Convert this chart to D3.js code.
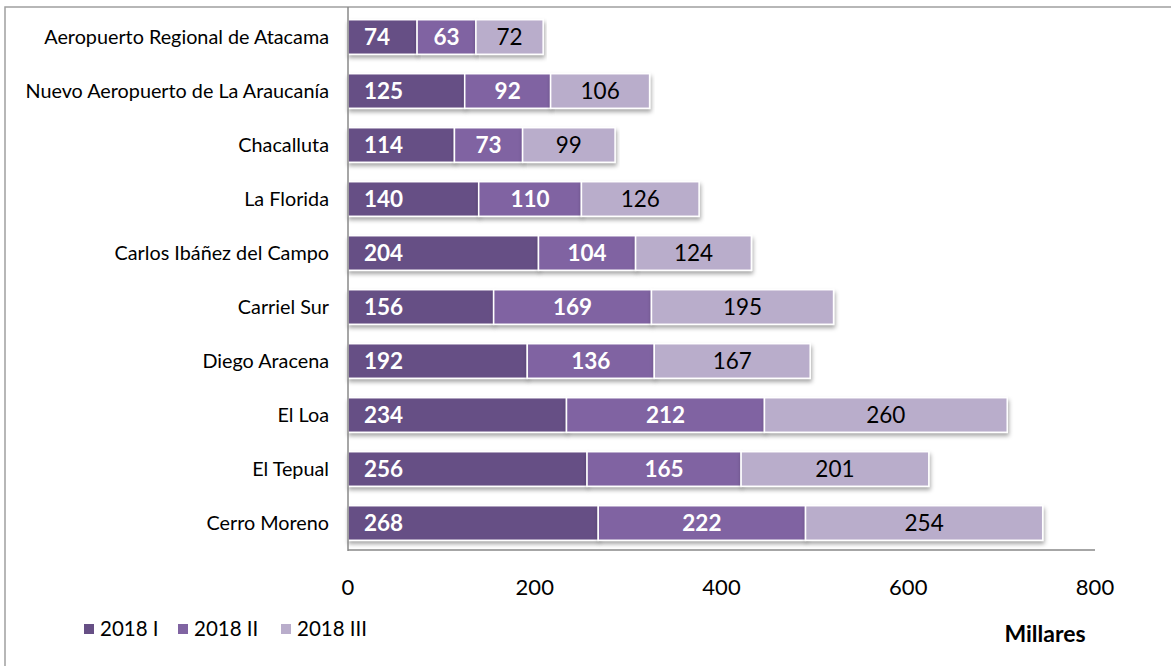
<!DOCTYPE html>
<html>
<head>
<meta charset="utf-8">
<script src="https://cdn.jsdelivr.net/npm/d3@7"></script>
<style>
  body { margin: 0; background: #fff; }
  svg { font-family: Lato, "Open Sans", sans-serif; }
</style>
</head>
<body>
<script>
// data
const airports = ["Aeropuerto Regional de Atacama", "Nuevo Aeropuerto de La Araucanía", "Chacalluta",
  "La Florida", "Carlos Ibáñez del Campo", "Carriel Sur", "Diego Aracena", "El Loa", "El Tepual", "Cerro Moreno"];
const series = ["2018 I", "2018 II", "2018 III"];
const q1 = [74, 125, 114, 140, 204, 156, 192, 234, 256, 268];
const q2 = [63, 92, 73, 110, 104, 169, 136, 212, 165, 222];
const q3 = [72, 106, 99, 126, 124, 195, 167, 260, 201, 254];
const ticks = [0, 200, 400, 600, 800];
const colors = ["#664f85", "#8064a2", "#b9adcb"];

const width = 1171, height = 666;
const margin = { top: 8, left: 348, right: 76, bottom: 116 };

const svg = d3.select("body").append("svg")
  .attr("width", width).attr("height", height);

const defs = svg.append("defs");
const f = defs.append("filter").attr("id", "shadow")
  .attr("x", "-5%").attr("y", "-20%").attr("width", "110%").attr("height", "160%");
f.append("feDropShadow").attr("dx", 1).attr("dy", 3).attr("stdDeviation", 2)
  .attr("flood-color", "#000").attr("flood-opacity", 0.35);

// outer frame (runs off the picture at right and bottom)
svg.append("rect").attr("x", 5).attr("y", 7).attr("width", width + 10).attr("height", height + 10)
  .attr("fill", "none").attr("stroke", "#a0a0a0").attr("stroke-width", 1.5);

const x = d3.scaleLinear().domain([0, 800]).range([margin.left, width - margin.right]);
const y = d3.scaleBand().domain(airports).range([margin.top + 2, height - margin.bottom]).paddingInner(0.36).paddingOuter(0.18);

const rows = airports.map((name, i) => ({ name, vals: [q1[i], q2[i], q3[i]] }));
const stack = d3.stack().keys([0, 1, 2]).value((d, k) => d.vals[k])(rows);

const layers = svg.append("g").selectAll("g").data(stack).join("g")
  .attr("fill", (d, i) => colors[i]);

layers.selectAll("rect").data(d => d).join("rect")
  .attr("x", d => x(d[0]))
  .attr("y", d => y(d.data.name))
  .attr("width", d => x(d[1]) - x(d[0]))
  .attr("height", y.bandwidth())
  .attr("stroke", "#fff").attr("stroke-width", 1.5)
  .attr("filter", "url(#shadow)");

// bar labels
stack.forEach((layer, i) => {
  svg.append("g").selectAll("text").data(layer).join("text")
    .attr("x", d => i === 0 ? x(d[0]) + 16 : (x(d[0]) + x(d[1])) / 2)
    .attr("y", d => y(d.data.name) + y.bandwidth() / 2)
    .attr("dy", "0.36em")
    .attr("text-anchor", i === 0 ? "start" : "middle")
    .attr("font-size", 22.5)
    .attr("font-weight", i < 2 ? "bold" : "normal")
    .attr("fill", i < 2 ? "#fff" : "#000")
    .text(d => d[1] - d[0]);
});

// axes
svg.append("line").attr("x1", x(0)).attr("x2", x(0)).attr("y1", 7).attr("y2", 551)
  .attr("stroke", "#888").attr("stroke-width", 1.5);
svg.append("line").attr("x1", x(0)).attr("x2", x(800)).attr("y1", 550).attr("y2", 550)
  .attr("stroke", "#888").attr("stroke-width", 1.5);

svg.append("g").selectAll("text").data(airports).join("text")
  .attr("x", 329).attr("y", d => y(d) + y.bandwidth() / 2)
  .attr("dy", "0.36em").attr("text-anchor", "end")
  .attr("font-size", 19.8).attr("fill", "#000")
  .text(d => d);

svg.append("g").selectAll("text").data(ticks).join("text")
  .attr("x", d => x(d)).attr("y", 595)
  .attr("text-anchor", "middle").attr("font-size", 22)
  .text(d => d);

svg.append("text").attr("x", 1045).attr("y", 642).attr("text-anchor", "middle")
  .attr("font-size", 23).attr("font-weight", "bold").text("Millares");

// legend
const lx = [84, 178, 281];
const leg = svg.append("g").selectAll("g").data(series).join("g")
  .attr("transform", (d, i) => `translate(${lx[i]},629)`);
leg.append("rect").attr("x", 0).attr("y", -5).attr("width", 10).attr("height", 10)
  .attr("fill", (d, i) => colors[i]);
leg.append("text").attr("x", 16).attr("dy", "0.36em").attr("font-size", 20.5).text(d => d);
</script>
</body>
</html>
